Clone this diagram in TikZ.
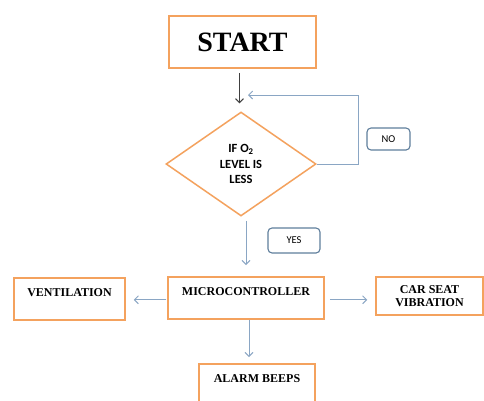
\documentclass[tikz,border=0pt]{standalone}
\usepackage{fontspec}
\setmainfont{Liberation Serif}
\newfontfamily\calibri{Carlito}
\usetikzlibrary{shapes.geometric, arrows.meta}
\definecolor{boxorange}{HTML}{F4A25E}
\definecolor{flowblue}{HTML}{8AA6C4}
\definecolor{tagblue}{HTML}{5F7E9C}

\begin{document}
\begin{tikzpicture}[x=1pt, y=-1pt, >={Straight Barb[length=4pt,width=8pt]},
    box/.style={draw=boxorange, line width=1.5pt, inner xsep=0pt, inner ysep=0pt,
        font=\bfseries\fontsize{12}{13}\selectfont},
    topbox/.style={box, text height=19pt, text depth=23pt, anchor=north},
    tag/.style={draw=tagblue, line width=1.1pt, rounded corners=4pt,
        font=\calibri\fontsize{10.5}{11}\selectfont},
    flow/.style={draw=flowblue, line width=0.9pt}]
    \useasboundingbox[fill=white] (0,0) rectangle (484,400);

    \node[box, minimum width=147pt, minimum height=52pt,
        font=\bfseries\fontsize{28}{30}\selectfont] (start) at (242.5,42) {START};
    \node[diamond, draw=boxorange, line width=1.5pt, inner sep=0pt, minimum width=150pt,
        minimum height=104pt, align=center, font=\calibri\bfseries\fontsize{12.5}{15.5}\selectfont]
        (cond) at (241,164) {IF O\textsubscript{2}\\LEVEL IS\\LESS};
    \node[tag, minimum width=43pt, minimum height=22pt] (no) at (388.5,139) {NO};
    \node[tag, minimum width=52pt, minimum height=25pt] (yes) at (294,240.5) {YES};

    \node[topbox, minimum width=156pt] (micro) at (246,276) {MICROCONTROLLER};
    \node[topbox, minimum width=111pt] (vent) at (69.5,277) {VENTILATION};
    \node[box, minimum width=107pt, minimum height=38pt, align=center] (seat) at (429.5,296)
        {CAR SEAT\\VIBRATION};
    \node[topbox, minimum width=116pt] (alarm) at (257,363) {ALARM BEEPS};

    \coordinate (back) at (248,95);
    \coordinate (down) at ([xshift=-3pt]start.south);

    \draw[->, draw=black!75, line width=0.9pt, shorten <=4pt, shorten >=8pt]
        (down) -- (down |- cond.north);
    \draw[flow, ->] (cond.east) -- ++(42,0) |- (back);
    \draw[flow, ->, shorten <=4pt, shorten >=11pt] (cond.south -| micro.north) -- (micro.north);
    \draw[flow, ->, shorten <=1pt, shorten >=8pt] ([yshift=-2pt]micro.west) -- ([yshift=-2pt]micro.west -| vent.east);
    \draw[flow, ->, shorten <=5pt, shorten >=8pt] ([yshift=-2pt]micro.east) -- ([yshift=-2pt]micro.east -| seat.west);
    \draw[flow, ->, shorten >=6pt] ([xshift=3pt]micro.south) -- ([xshift=3pt]micro.south |- alarm.north);
\end{tikzpicture}
\end{document}
